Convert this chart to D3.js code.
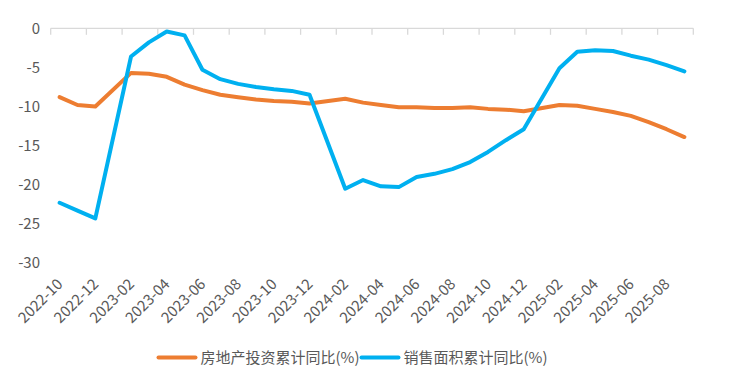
<!DOCTYPE html>
<html><head><meta charset="utf-8">
<script src="https://cdn.jsdelivr.net/npm/d3@7/dist/d3.min.js"></script>
<style>
html,body{margin:0;padding:0;background:#fff;}
text{font-family:"Noto Sans CJK SC","Noto Sans",sans-serif;}
</style></head>
<body><svg id="chart" width="731" height="389"></svg>
<script>
const months = ["2022-10","2022-11","2022-12","2023-01","2023-02","2023-03","2023-04","2023-05","2023-06","2023-07","2023-08","2023-09","2023-10","2023-11","2023-12","2024-01","2024-02","2024-03","2024-04","2024-05","2024-06","2024-07","2024-08","2024-09","2024-10","2024-11","2024-12","2025-01","2025-02","2025-03","2025-04","2025-05","2025-06","2025-07","2025-08","2025-09"];
const investment = [-8.8,-9.8,-10.0,null,-5.7,-5.8,-6.2,-7.2,-7.9,-8.5,-8.8,-9.1,-9.3,-9.4,-9.6,null,-9.0,-9.5,-9.8,-10.1,-10.1,-10.2,-10.2,-10.1,-10.3,-10.4,-10.6,null,-9.8,-9.9,-10.3,-10.7,-11.2,-12.0,-12.9,-13.9];
const salesArea = [-22.3,-23.3,-24.3,null,-3.6,-1.8,-0.4,-0.9,-5.3,-6.5,-7.1,-7.5,-7.8,-8.0,-8.5,null,-20.5,-19.4,-20.2,-20.3,-19.0,-18.6,-18.0,-17.1,-15.8,-14.3,-12.9,null,-5.1,-3.0,-2.8,-2.9,-3.5,-4.0,-4.7,-5.5];
const yTicks = [0,-5,-10,-15,-20,-25,-30];
const seriesNames = ["房地产投资累计同比(%)","销售面积累计同比(%)"];
const seriesColors = ["#ED7D31","#00B0F0"];

const svg = d3.select("#chart");
const x = d3.scaleBand().domain(months).range([50.7, 693.3]).padding(0);
const y = d3.scaleLinear().domain([-30, 0]).range([263, 28.3]);
const textColor = "#595959";
const axisColor = "#d9d9d9";

// y labels
svg.append("g").selectAll("text").data(yTicks).join("text")
  .attr("x", 40).attr("y", d => y(d)).attr("dy", "0.35em")
  .attr("text-anchor", "end").attr("font-size", 15).attr("fill", textColor)
  .text(d => d);

// x axis line at 0 with ticks at category boundaries every 2
const xAxisG = svg.append("g");
xAxisG.append("line").attr("x1", x.range()[0]).attr("x2", x.range()[1])
  .attr("y1", y(0)).attr("y2", y(0)).attr("stroke", axisColor).attr("stroke-width", 1.3);
const tickMonths = months.filter((m, i) => i % 2 === 0);
const tickXs = tickMonths.map(m => x(m)).concat([x.range()[1]]);
xAxisG.selectAll("line.tk").data(tickXs).join("line").attr("class","tk")
  .attr("x1", d => d).attr("x2", d => d).attr("y1", y(0)).attr("y2", y(0) + 6.5)
  .attr("stroke", axisColor).attr("stroke-width", 1.3);

// x labels (rotated)
svg.append("g").selectAll("text").data(tickMonths).join("text")
  .attr("transform", d => `translate(${x(d) + x.bandwidth()/2 + 4},285) rotate(-45)`)
  .attr("text-anchor", "end").attr("font-size", 15).attr("fill", textColor)
  .text(d => d);

// lines
const lineGen = vals => d3.line()
  .defined(d => d.v !== null)
  .x(d => x(d.m) + x.bandwidth()/2)
  .y(d => y(d.v))(months.map((m, i) => ({m, v: vals[i]})).filter(d => d.v !== null));

[investment, salesArea].forEach((vals, k) => {
  svg.append("path").attr("d", lineGen(vals)).attr("fill", "none")
    .attr("stroke", seriesColors[k]).attr("stroke-width", 4)
    .attr("stroke-linejoin", "round").attr("stroke-linecap", "round");
});

// legend
const legendItems = [{x: 158.5, tx: 200.5}, {x: 361.5, tx: 403.5}];
legendItems.forEach((p, k) => {
  svg.append("line").attr("x1", p.x).attr("x2", p.x + 37).attr("y1", 357.5).attr("y2", 357.5)
    .attr("stroke", seriesColors[k]).attr("stroke-width", 4).attr("stroke-linecap", "round");
  svg.append("text").attr("x", p.tx).attr("y", 357.5).attr("dy", "0.35em")
    .attr("font-size", 15).attr("fill", textColor).text(seriesNames[k]);
});
</script></body></html>
